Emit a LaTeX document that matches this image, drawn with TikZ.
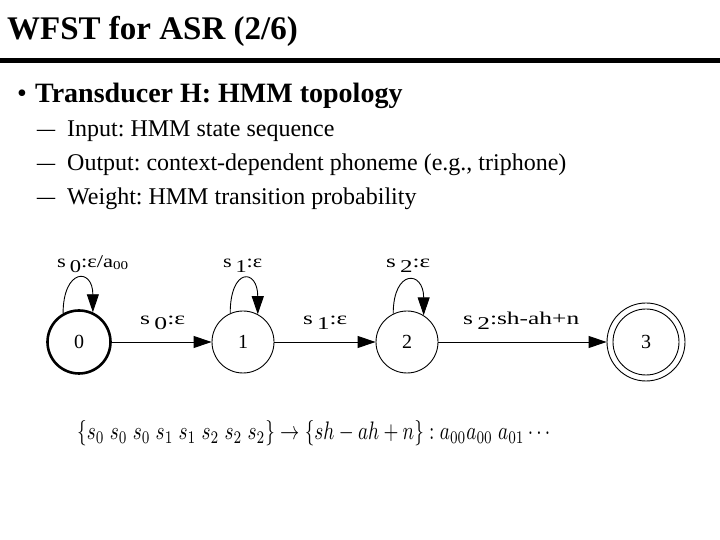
\documentclass[tikz,border=0pt]{standalone}
\usepackage{fontspec}
\setmainfont{Liberation Serif}
\usepackage{graphicx}
\usetikzlibrary{arrows.meta}
\frenchspacing
\newcommand\lsub[1]{\,\raisebox{-5pt}{#1}}
\newcommand\wlab[2]{\resizebox{#1}{\height}{#2}}
\tikzset{
  state/.style={circle, draw, minimum size=62pt, inner sep=0pt, line width=0.9pt,
    font=\fontsize{20}{20}\selectfont},
  edge/.style={line width=0.9pt, -{Triangle[length=18pt,width=12pt]}},
  lab/.style={inner sep=0pt, anchor=base west, font=\fontsize{18}{18}\selectfont},
  txt/.style={inner sep=0pt, anchor=base west},
}
\begin{document}
\begin{tikzpicture}[x=1pt,y=1pt]
\useasboundingbox (0,0) rectangle (720,540);
\fill[white] (0,0) rectangle (720,540);
% title and rule
\node[txt, font=\fontsize{33}{33}\selectfont\bfseries] (title) at (7,500) {WFST for ASR (2/6)};
\fill (0,477) rectangle (720,482);
% bullets
\node[txt, font=\fontsize{28}{28}\selectfont] (b1) at (17,437) {•};
\node[txt, font=\fontsize{28}{28}\selectfont\bfseries] (t1) at (35,437) {Transducer H: HMM topology};
\node[txt, font=\fontsize{24}{24}\selectfont] (d1) at (37,403) {\resizebox{18pt}{\height}{–}};
\node[txt, font=\fontsize{24}{24}\selectfont] (s1) at (67,403) {Input: HMM state sequence};
\node[txt, font=\fontsize{24}{24}\selectfont] (d2) at (37,369) {\resizebox{18pt}{\height}{–}};
\node[txt, font=\fontsize{24}{24}\selectfont] (s2) at (67,369) {Output: context-dependent phoneme (e.g., triphone)};
\node[txt, font=\fontsize{24}{24}\selectfont] (d3) at (37,335) {\resizebox{18pt}{\height}{–}};
\node[txt, font=\fontsize{24}{24}\selectfont] (s3) at (67,335) {Weight: HMM transition probability};
% states
\node[state, line width=2.6pt, minimum size=63pt] (n0) at (79,198) {0};
\node[state] (n1) at (243,198) {1};
\node[state] (n2) at (407,198) {2};
\node[state, minimum size=78pt] (n3) at (646,198) {3};
\draw[line width=0.9pt] (n3.center) circle (33);
% edges
\draw[edge] (n0) -- (n1);
\draw[edge] (n1) -- (n2);
\draw[edge] (n2) -- (n3);
% self loops
\draw[edge] (n0.119) .. controls +(0,45) and +(0,45) .. (n0.65);
\draw[edge] (n1.114) .. controls +(0,46) and +(0,46) .. (n1.62);
\draw[edge] (n2.116) .. controls +(0,45) and +(0,45) .. (n2.58);
% labels
\node[lab] (l00) at (57,272) {\wlab{71pt}{s\lsub{0}:ε/a\raisebox{-2pt}{\fontsize{12}{12}\selectfont 00}}};
\node[lab] (l11) at (223,272) {\wlab{39pt}{s\lsub{1}:ε}};
\node[lab] (l22) at (386,272) {\wlab{44pt}{s\lsub{2}:ε}};
\node[lab] (l01) at (140,215) {\wlab{45pt}{s\lsub{0}:ε}};
\node[lab] (l12) at (303,215) {\wlab{44pt}{s\lsub{1}:ε}};
\node[lab] (l23) at (463,215) {\wlab{116pt}{s\lsub{2}:sh-ah+n}};
% formula
\node[inner sep=0pt, anchor=base west] (f) at (77,100)
  {\resizebox{473pt}{19pt}{$\{s_0\;s_0\;s_0\;s_1\;s_1\;s_2\;s_2\;s_2\}\rightarrow\{sh-ah+n\}:a_{00}a_{00}\;a_{01}\cdots$}};
\end{tikzpicture}
\end{document}
